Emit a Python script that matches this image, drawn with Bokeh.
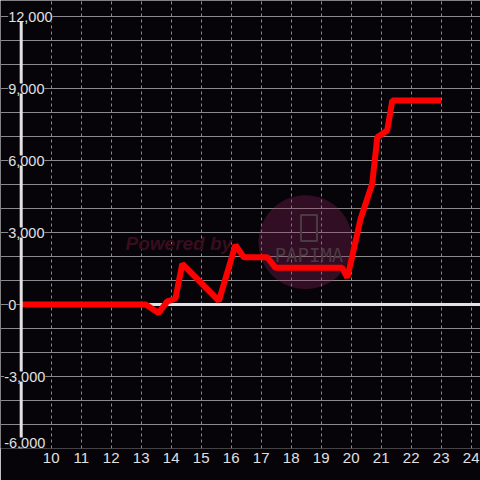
from bokeh.plotting import figure
from bokeh.models import (Range1d, FixedTicker, Grid, LabelSet, ColumnDataSource)
from bokeh.core.properties import value
from bokeh.embed import file_html
from bokeh.resources import INLINE

# ---- data ----
X_VALUES = [9.0, 13.15, 13.58, 13.87, 14.14, 14.37, 15.59, 16.14, 16.42, 17.2, 17.48,
            19.7, 19.87, 20.05, 20.31, 20.7, 20.87, 21.2, 21.37, 23.0]
Y_VALUES = [0, 0, -350, 130, 240, 1690, 150, 2480, 1970, 1970, 1530,
            1530, 1120, 2100, 3550, 5030, 6970, 7250, 8500, 8500]

X_TICKS = [10, 11, 12, 13, 14, 15, 16, 17, 18, 19, 20, 21, 22, 23, 24]
Y_GRID = [-6000, -5000, -4000, -3000, -2000, -1000, 0, 1000, 2000, 3000,
          4000, 5000, 6000, 7000, 8000, 9000, 10000, 11000, 12000]
Y_TICKS = [12000, 9000, 6000, 3000, 0, -3000, -6000]
Y_TICK_LABELS = ["12,000", "9,000", "6,000", "3,000", "0", "-3,000", "-6,000"]

# ---- layout / style ----
W = 480
BG = "#060409"
FG = "#e0e0e0"
GRID = "#8a8a8a"
FONT = "Liberation Sans"

X_AXIS = 9.0
X_START, X_END = 8.31, 24.31
Y_MIN, Y_MAX = -6000, 12000
Y_TOP = 12666.7

p = figure(width=W, height=W, output_backend="svg", toolbar_location=None,
           x_range=Range1d(X_START, X_END), y_range=Range1d(Y_MIN, Y_TOP),
           y_axis_location=None, min_border_left=0, min_border_right=0,
           min_border_top=0, min_border_bottom=32,
           background_fill_color=BG, border_fill_color=BG, outline_line_color=None)

p.grid.visible = False

# x axis
ax = p.xaxis[0]
ax.ticker = FixedTicker(ticks=X_TICKS)
ax.axis_line_color = None
ax.major_tick_line_color = None
ax.minor_tick_line_color = None
ax.major_tick_out = 0
ax.major_tick_in = 0
ax.major_label_standoff = 4
ax.major_label_text_color = FG
ax.major_label_text_font = FONT
ax.major_label_text_font_size = "15px"

# grids
vgrid = Grid(dimension=0, ticker=FixedTicker(ticks=X_TICKS), bounds=(Y_MIN, Y_MAX),
             grid_line_color=GRID, grid_line_dash="3 3", grid_line_width=1)
hgrid = Grid(dimension=1, ticker=FixedTicker(ticks=Y_GRID), bounds=(X_AXIS, X_END),
             grid_line_color=GRID, grid_line_width=1)
p.add_layout(vgrid)
p.add_layout(hgrid)

# watermark
p.circle(x=[18.477], y=[2596], radius=47, radius_units="screen",
         fill_color="#96285f", fill_alpha=0.3, line_color=None)
p.rect(x=[18.593], y=[3187], width=16, height=26, width_units="screen",
       height_units="screen", fill_alpha=0, line_color="#4a3a42", line_width=2)
p.text(x=[18.593], y=[2042], text=["PAPIMA"], text_align="center",
       text_baseline="middle", text_color="#4a3a42",
       text_font=value("DejaVu Sans Mono"), text_font_size=value("19px"))
p.text(x=[12.477], y=[2540], text=["Powered by"], text_align="left",
       text_baseline="alphabetic", text_color="#3a0d1c",
       text_font=value(FONT), text_font_style="bold italic",
       text_font_size=value("19px"))

# zero line
p.segment(x0=[X_AXIS], y0=[0], x1=[X_END], y1=[0], line_color="#e2e2e2", line_width=3)

# series
p.line(X_VALUES, Y_VALUES, line_color="#ff0000", line_width=6)

# y axis line
p.segment(x0=[X_AXIS], y0=[Y_MIN], x1=[X_AXIS], y1=[Y_MAX], line_color="#e2e2e2", line_width=3)

# y tick labels (drawn over the axis line, with background; bottom one kept inside)
lab_x = X_AXIS + (7 - 20) / 30.0
src = ColumnDataSource(dict(
    x=[lab_x] * len(Y_TICKS), y=Y_TICKS, text=Y_TICK_LABELS,
    xo=[(-4 if t.startswith("-") else 0) for t in Y_TICK_LABELS],
    yo=[(6 if v == Y_MIN else 0) for v in Y_TICKS]))
labels = LabelSet(x="x", y="y", text="text", x_offset="xo", y_offset="yo", source=src,
                  text_align="left", text_baseline="middle", text_color=FG,
                  text_font=value(FONT), text_font_size=value("14.5px"),
                  background_fill_color=BG)
p.add_layout(labels)

open("out.html", "w").write(file_html(p, INLINE))
